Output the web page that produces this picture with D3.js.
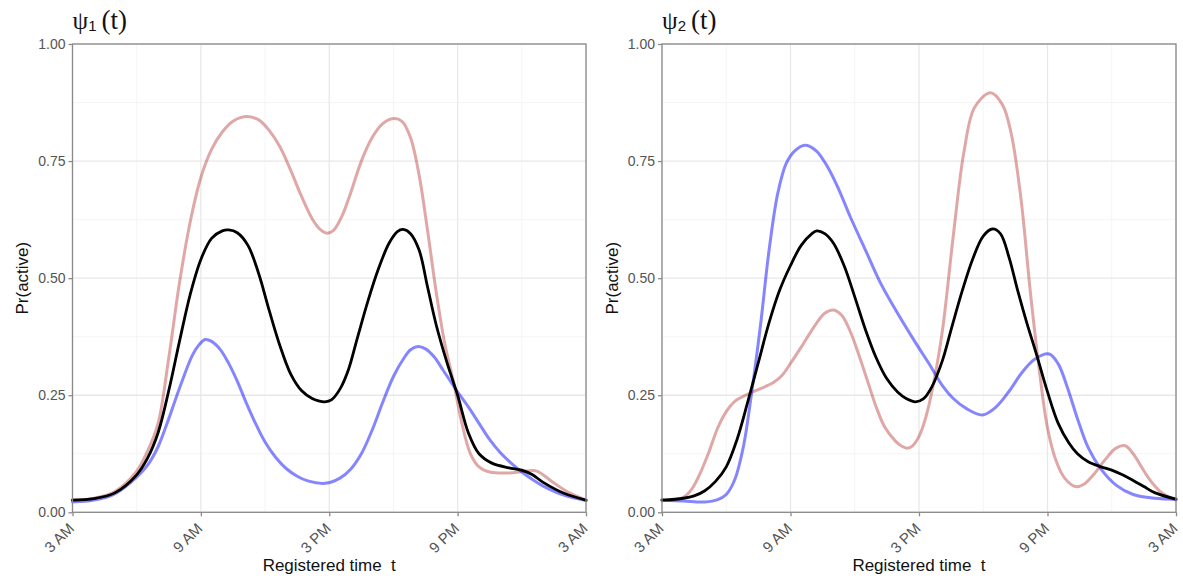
<!DOCTYPE html>
<html>
<head>
<meta charset="utf-8">
<script src="https://cdn.jsdelivr.net/npm/d3@7"></script>
<style>
  html, body { margin: 0; padding: 0; background: #fff; }
  svg { display: block; }
</style>
</head>
<body>
<svg id="chart" width="1183" height="581"></svg>
<script>
// Hours after 3 AM (0 = 3 AM, 24 = 3 AM next day) paired with Pr(active)

// psi_1(t)
const psi1Mean = [[0,0.026],[1,0.029],[2,0.042],[3,0.08],[3.5,0.115],[4,0.17],[4.5,0.26],[5,0.365],[5.5,0.465],[6,0.54],[6.5,0.585],[7,0.601],[7.3,0.603],[7.7,0.597],[8.2,0.57],[8.7,0.51],[9.2,0.43],[9.7,0.355],[10.2,0.295],[10.7,0.26],[11.2,0.243],[11.5,0.238],[11.8,0.236],[12.1,0.24],[12.5,0.263],[12.9,0.305],[13.3,0.37],[13.8,0.45],[14.3,0.52],[14.8,0.575],[15.2,0.6],[15.45,0.604],[15.8,0.595],[16.2,0.56],[16.6,0.48],[17,0.4],[17.5,0.32],[18,0.25],[18.5,0.17],[19,0.125],[19.6,0.105],[20.4,0.095],[21,0.09],[21.5,0.08],[22,0.064],[23,0.04],[24,0.026]];
const psi1High = [[0,0.026],[1,0.03],[2,0.045],[3,0.088],[3.5,0.13],[4,0.19],[4.5,0.33],[5,0.49],[5.5,0.62],[6,0.715],[6.5,0.775],[7,0.812],[7.5,0.835],[8.1,0.845],[8.7,0.838],[9.2,0.815],[9.7,0.78],[10.2,0.73],[10.7,0.675],[11.2,0.627],[11.6,0.603],[11.9,0.596],[12.2,0.602],[12.6,0.633],[13,0.682],[13.5,0.75],[14,0.8],[14.5,0.83],[15,0.841],[15.4,0.835],[15.8,0.8],[16.2,0.72],[16.6,0.6],[17,0.47],[17.4,0.36],[17.8,0.28],[18.2,0.19],[18.6,0.125],[19,0.097],[19.5,0.086],[20.4,0.084],[21.2,0.088],[21.7,0.088],[22.4,0.066],[23.2,0.042],[24,0.026]];
const psi1Low = [[0,0.022],[1,0.026],[2,0.04],[3,0.075],[3.5,0.1],[4,0.14],[4.5,0.2],[5,0.265],[5.6,0.335],[5.9,0.357],[6.2,0.369],[6.5,0.365],[6.9,0.348],[7.3,0.318],[7.7,0.28],[8.1,0.236],[8.5,0.195],[9,0.15],[9.5,0.117],[10,0.093],[10.5,0.077],[11,0.067],[11.8,0.062],[12.5,0.073],[13,0.092],[13.5,0.125],[14,0.175],[14.5,0.235],[15,0.29],[15.5,0.33],[15.8,0.347],[16.15,0.354],[16.5,0.349],[16.9,0.332],[17.3,0.305],[17.94,0.261],[18.5,0.225],[19,0.19],[19.5,0.155],[20,0.127],[20.5,0.105],[21,0.086],[21.5,0.07],[22,0.056],[23,0.036],[24,0.025]];

// psi_2(t)
const psi2Mean = [[0,0.026],[1,0.03],[1.5,0.035],[2,0.046],[2.5,0.066],[3,0.097],[3.5,0.155],[4,0.235],[4.5,0.32],[5,0.405],[5.5,0.475],[6,0.527],[6.5,0.57],[7,0.595],[7.23,0.601],[7.6,0.595],[8,0.575],[8.5,0.527],[9,0.46],[9.5,0.39],[10,0.33],[10.5,0.285],[11,0.257],[11.4,0.243],[11.84,0.236],[12.2,0.242],[12.6,0.268],[13.1,0.325],[13.5,0.39],[14,0.47],[14.5,0.54],[15,0.59],[15.43,0.605],[15.8,0.595],[16.2,0.545],[16.6,0.475],[17,0.41],[17.5,0.335],[18,0.257],[18.5,0.19],[19,0.148],[19.4,0.125],[19.9,0.108],[20.5,0.097],[21,0.09],[21.5,0.08],[22,0.068],[22.5,0.055],[23,0.042],[24,0.028]];
const psi2High = [[0,0.026],[0.6,0.027],[1,0.032],[1.4,0.05],[1.8,0.085],[2.2,0.13],[2.6,0.18],[3,0.215],[3.4,0.237],[4,0.252],[4.6,0.264],[5.2,0.277],[5.6,0.292],[6,0.318],[6.6,0.36],[7.2,0.403],[7.6,0.425],[8,0.432],[8.4,0.42],[8.8,0.385],[9.2,0.335],[9.6,0.28],[10,0.225],[10.4,0.182],[10.9,0.152],[11.2,0.141],[11.45,0.137],[11.7,0.142],[12,0.162],[12.3,0.2],[12.7,0.28],[13.1,0.39],[13.6,0.59],[14.1,0.77],[14.6,0.865],[15.35,0.896],[15.9,0.87],[16.3,0.81],[16.75,0.674],[17.2,0.47],[17.6,0.31],[18,0.18],[18.4,0.11],[18.8,0.073],[19.3,0.055],[19.7,0.06],[20.2,0.083],[20.7,0.113],[21.2,0.137],[21.63,0.142],[22,0.125],[22.4,0.096],[22.8,0.068],[23.2,0.047],[23.6,0.034],[24,0.026]];
const psi2Low = [[0,0.026],[1,0.024],[2,0.022],[2.6,0.027],[3,0.038],[3.4,0.07],[3.8,0.14],[4.2,0.26],[4.6,0.4],[5,0.56],[5.4,0.68],[5.8,0.745],[6.2,0.772],[6.68,0.784],[7.2,0.772],[7.7,0.74],[8.2,0.695],[8.8,0.63],[9.5,0.56],[10.2,0.49],[11,0.425],[11.8,0.365],[12.5,0.315],[13.1,0.27],[13.6,0.243],[14.2,0.222],[14.96,0.208],[15.6,0.225],[16.2,0.258],[16.8,0.298],[17.4,0.327],[18.08,0.338],[18.5,0.317],[18.94,0.265],[19.4,0.2],[19.9,0.138],[20.5,0.092],[21.2,0.058],[22,0.038],[23,0.03],[24,0.028]];

// Axis breaks and labels
const xMajor = [0, 6, 12, 18, 24];
const xMinor = [3, 9, 15, 21];
const xLabels = ["3 AM", "9 AM", "3 PM", "9 PM", "3 AM"];
const yMajor = [0, 0.25, 0.5, 0.75, 1];
const yMinor = [0.125, 0.375, 0.625, 0.875];
const yLabels = ["0.00", "0.25", "0.50", "0.75", "1.00"];

const panels = [
  { sub: "1", left: 72.5, right: 586, series: [psi1High, psi1Low, psi1Mean] },
  { sub: "2", left: 662, right: 1176, series: [psi2High, psi2Low, psi2Mean] }
];
const lineStyles = [
  { color: "#b22222", opacity: 0.4, width: 3 },
  { color: "#0000ff", opacity: 0.48, width: 3 },
  { color: "#000000", opacity: 1, width: 2.8 }
];

const plotTop = 44, plotBottom = 512.3;
const svg = d3.select("#chart");
const sans = '"Liberation Sans", Arial, sans-serif';
const serif = '"Liberation Serif", "Times New Roman", serif';
const frame = "#8a8a8a";

panels.forEach(p => {
  const x = d3.scaleLinear().domain([0, 24]).range([p.left, p.right]);
  const y = d3.scaleLinear().domain([0, 1]).range([plotBottom, plotTop]);
  const g = svg.append("g");

  // grid
  g.selectAll(".gxm").data(xMinor).join("line")
    .attr("x1", d => x(d)).attr("x2", d => x(d)).attr("y1", plotTop).attr("y2", plotBottom)
    .attr("stroke", "#f2f2f2").attr("stroke-width", 0.8);
  g.selectAll(".gym").data(yMinor).join("line")
    .attr("y1", d => y(d)).attr("y2", d => y(d)).attr("x1", p.left).attr("x2", p.right)
    .attr("stroke", "#f2f2f2").attr("stroke-width", 0.8);
  g.selectAll(".gx").data(xMajor).join("line")
    .attr("x1", d => x(d)).attr("x2", d => x(d)).attr("y1", plotTop).attr("y2", plotBottom)
    .attr("stroke", "#e8e8e8").attr("stroke-width", 1.3);
  g.selectAll(".gy").data(yMajor).join("line")
    .attr("y1", d => y(d)).attr("y2", d => y(d)).attr("x1", p.left).attr("x2", p.right)
    .attr("stroke", "#e8e8e8").attr("stroke-width", 1.3);

  // curves
  const line = d3.line().x(d => x(d[0])).y(d => y(d[1])).curve(d3.curveCatmullRom.alpha(0.5));
  p.series.forEach((s, i) => {
    const st = lineStyles[i];
    g.append("path").datum(s).attr("d", line)
      .attr("fill", "none").attr("stroke", st.color)
      .attr("stroke-opacity", st.opacity).attr("stroke-width", st.width)
      .attr("stroke-linejoin", "round").attr("stroke-linecap", "round");
  });

  // panel border
  g.append("rect").attr("x", p.left).attr("y", plotTop)
    .attr("width", p.right - p.left).attr("height", plotBottom - plotTop)
    .attr("fill", "none").attr("stroke", frame).attr("stroke-width", 1.3);

  // y axis
  const ya = g.append("g").attr("transform", `translate(${p.left},0)`)
    .call(d3.axisLeft(y).tickValues(yMajor).tickSize(4).tickPadding(3)
      .tickFormat((d, i) => yLabels[i]));
  ya.select(".domain").remove();
  ya.selectAll(".tick line").attr("stroke", frame).attr("stroke-width", 1.3);
  ya.selectAll(".tick text").attr("fill", "#555").style("font-size", "14px").style("font-family", sans);

  // x axis
  const xa = g.append("g").attr("transform", `translate(0,${plotBottom})`)
    .call(d3.axisBottom(x).tickValues(xMajor).tickSize(4).tickFormat((d, i) => xLabels[i]));
  xa.select(".domain").remove();
  xa.selectAll(".tick line").attr("stroke", frame).attr("stroke-width", 1.3);
  xa.selectAll(".tick text")
    .attr("fill", "#555").style("font-size", "15px").style("font-family", sans)
    .attr("text-anchor", "end").attr("y", 0).attr("dy", 0)
    .attr("transform", "translate(2,17) rotate(-45)");

  // axis titles
  g.append("text")
    .attr("transform", `translate(${p.left - 50},${(plotTop + plotBottom) / 2}) rotate(-90)`)
    .attr("text-anchor", "middle").attr("dy", "0.35em")
    .style("font-family", sans).style("font-size", "17px").attr("fill", "#111")
    .text("Pr(active)");
  g.append("text")
    .attr("x", (p.left + p.right) / 2).attr("y", 571)
    .attr("text-anchor", "middle")
    .style("font-family", sans).style("font-size", "17px").attr("fill", "#111")
    .style("white-space", "pre")
    .text("Registered time  t");

  // panel title: psi with subscript, then (t)
  const t = g.append("text").attr("x", p.left).attr("y", 29).attr("fill", "#111");
  t.append("tspan").style("font-family", serif).style("font-size", "25px").text("ψ");
  t.append("tspan").style("font-family", sans).style("font-size", "15px").attr("dy", 2).text(p.sub);
  t.append("tspan").style("font-family", serif).style("font-size", "27px").attr("dy", -2).attr("dx", 5).text("(t)");
});
</script>
</body>
</html>
